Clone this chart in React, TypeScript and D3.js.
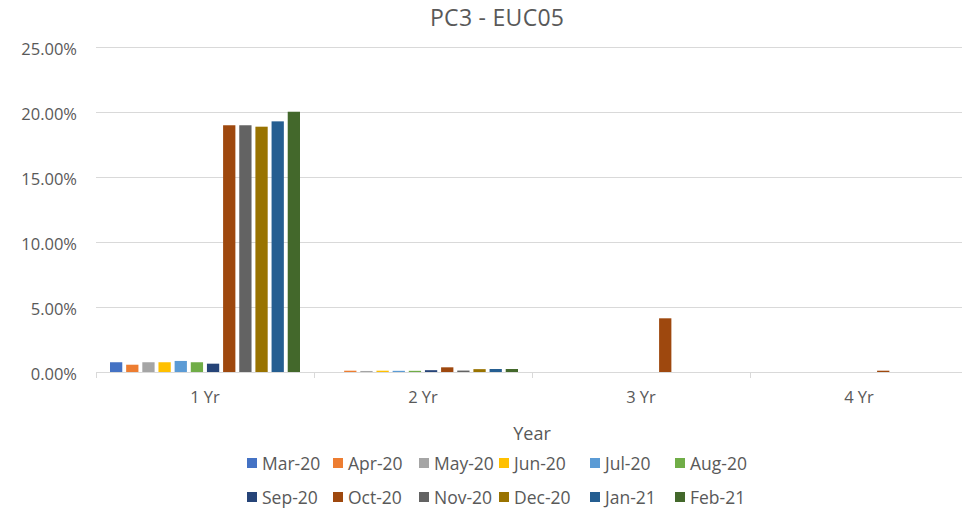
import React from 'react';
import * as d3 from 'd3';

const categories = ['1 Yr', '2 Yr', '3 Yr', '4 Yr'];
const seriesNames = ['Mar-20', 'Apr-20', 'May-20', 'Jun-20', 'Jul-20', 'Aug-20', 'Sep-20', 'Oct-20', 'Nov-20', 'Dec-20', 'Jan-21', 'Feb-21'];
const seriesColors = ['#4472C4', '#ED7D31', '#A5A5A5', '#FFC000', '#5B9BD5', '#70AD47', '#264478', '#9E480E', '#636363', '#997300', '#255E91', '#43682B'];
// values in percent, per series, across categories
const seriesValues = [
  [0.75, 0.0, 0, 0],
  [0.56, 0.1, 0, 0],
  [0.75, 0.08, 0, 0],
  [0.75, 0.1, 0, 0],
  [0.85, 0.09, 0, 0],
  [0.75, 0.09, 0, 0],
  [0.64, 0.14, 0, 0],
  [18.98, 0.36, 4.13, 0.1],
  [18.98, 0.11, 0, 0],
  [18.87, 0.22, 0, 0],
  [19.28, 0.23, 0, 0],
  [20.02, 0.23, 0, 0],
];
const yTicks = [0, 5, 10, 15, 20, 25];
const title = 'PC3 - EUC05';
const xTitle = 'Year';

const W = 962;
const H = 513;
const plotLeft = 96;
const plotRight = 968;
const plotTop = 47;
const plotBottom = 372;
const FONT = "'Open Sans', sans-serif";
const TEXT = '#595959';

export default function App() {
  const x0 = d3.scaleBand<string>().domain(categories).range([plotLeft, plotRight]).padding(0);
  const groupPad = 14;
  const x1 = d3
    .scaleBand<string>()
    .domain(seriesNames)
    .range([groupPad, x0.bandwidth() - groupPad])
    .paddingInner(0.24)
    .paddingOuter(0);
  const y = d3.scaleLinear().domain([0, 25]).range([plotBottom, plotTop]);

  const legendCols = [247, 333, 419, 499, 590, 675];
  const legendRows = [463, 497];

  const boundaries = categories.map((c) => x0(c) as number).concat([plotRight]);

  return (
    <svg width={W} height={H} style={{ position: 'absolute', left: 0, top: 0, background: '#fff' }} fontFamily={FONT}>
      <rect x={0} y={0} width={W} height={H} fill="#fff" />
      <text x={497} y={26} textAnchor="middle" fontSize={23} fill={TEXT} textLength={134} lengthAdjust="spacing">
        {title}
      </text>
      {yTicks.map((t) => (
        <g key={t}>
          <line x1={plotLeft} x2={plotRight} y1={y(t) + 0.5} y2={y(t) + 0.5} stroke="#d9d9d9" strokeWidth={1} />
          <text x={77} y={y(t) + 1} textAnchor="end" dominantBaseline="central" fontSize={16.5} fill={TEXT}>
            {t.toFixed(2) + '%'}
          </text>
        </g>
      ))}
      {boundaries.map((b, i) => (
        <line key={i} x1={b + 0.5} x2={b + 0.5} y1={plotBottom} y2={plotBottom + 6} stroke="#d9d9d9" />
      ))}
      {categories.map((c, ci) => (
        <g key={c} transform={`translate(${x0(c)},0)`}>
          {seriesNames.map((s, si) => {
            const v = seriesValues[si][ci];
            if (!v) return null;
            return (
              <rect
                key={s}
                x={x1(s)}
                y={y(v)}
                width={x1.bandwidth()}
                height={plotBottom - y(v)}
                fill={seriesColors[si]}
              />
            );
          })}
        </g>
      ))}
      {categories.map((c) => (
        <text
          key={c}
          x={(x0(c) as number) + x0.bandwidth() / 2}
          y={403}
          textAnchor="middle"
          fontSize={16.5}
          fill={TEXT}
        >
          {c}
        </text>
      ))}
      <text x={(plotLeft + plotRight) / 2} y={440} textAnchor="middle" fontSize={18} fill={TEXT}>
        {xTitle}
      </text>
      {seriesNames.map((s, i) => {
        const col = i % 6;
        const row = Math.floor(i / 6);
        const lx = legendCols[col];
        const ly = legendRows[row];
        return (
          <g key={s}>
            <rect x={lx} y={ly - 5} width={10} height={10} fill={seriesColors[i]} />
            <text x={lx + 15} y={ly} dominantBaseline="central" fontSize={17.5} fill={TEXT}>
              {s}
            </text>
          </g>
        );
      })}
    </svg>
  );
}
